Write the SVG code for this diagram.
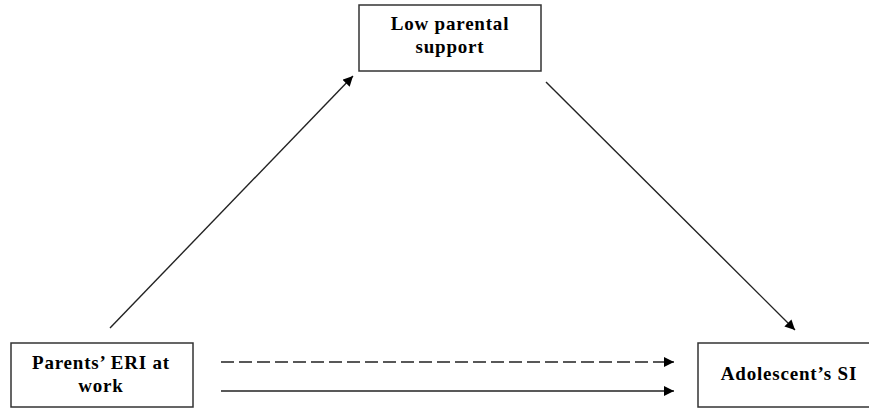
<svg xmlns="http://www.w3.org/2000/svg" width="869" height="409" viewBox="0 0 869 409">
<defs>
<marker id="ah" viewBox="0 0 10 10" refX="10" refY="5" markerWidth="10" markerHeight="10" markerUnits="userSpaceOnUse" orient="auto">
<path d="M0,0 L10,5 L0,10 z" fill="#000"/>
</marker>
<style>
.box{fill:#fff;stroke:#333;stroke-width:1.5}
.lbl{font-family:"Liberation Serif",serif;font-weight:bold;font-size:19px;letter-spacing:0.8px;fill:#000;text-anchor:middle}
.c{stroke:#222;stroke-width:1.4;fill:none;marker-end:url(#ah)}
</style>
</defs>
<rect width="869" height="409" fill="#fff"/>
<g id="n-support">
<rect class="box" x="359" y="5" width="182" height="66"/>
<text class="lbl" x="450" y="30">Low parental</text>
<text class="lbl" x="450" y="53">support</text>
</g>
<g id="n-eri">
<rect class="box" x="11" y="343" width="182" height="64"/>
<text class="lbl" x="101" y="369">Parents’ ERI at</text>
<text class="lbl" x="101" y="392">work</text>
</g>
<g id="n-si">
<rect class="box" x="698" y="343" width="172" height="64"/>
<text class="lbl" x="789" y="380">Adolescent’s SI</text>
</g>
<g id="connectors">
<line class="c" x1="110" y1="328" x2="353" y2="76"/>
<line class="c" x1="546" y1="82" x2="795" y2="330"/>
<line class="c" x1="221" y1="362" x2="674" y2="362" stroke-dasharray="13,5"/>
<line class="c" x1="221" y1="391" x2="674" y2="391"/>
</g>
</svg>
